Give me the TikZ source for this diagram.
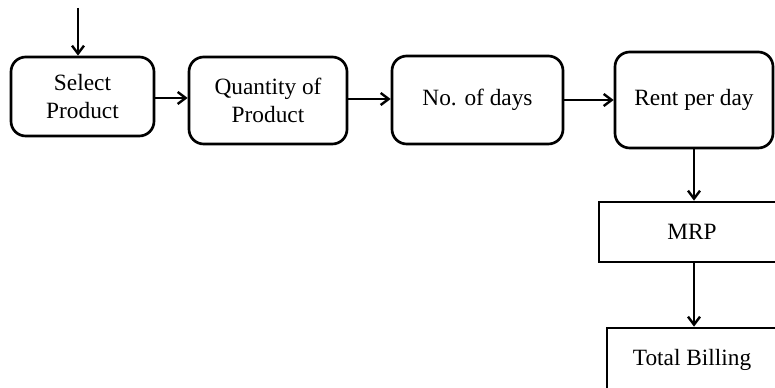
\documentclass[tikz,border=0pt]{standalone}
\usepackage{fontspec}
\setmainfont{Liberation Serif}
\usetikzlibrary{arrows.meta}
\begin{document}
\begin{tikzpicture}[x=0.75pt,y=-0.75pt,
  rbox/.style={draw, line width=2pt, rounded corners=11pt, align=center, inner sep=0pt,
    font=\fontsize{17.5}{21}\selectfont},
  sbox/.style={draw, line width=2pt, align=center, inner sep=0pt,
    font=\fontsize{17.5}{21}\selectfont},
  arr/.style={line width=2pt, -{Straight Barb[length=6pt,width=9pt,line width=1.8pt]}}]
\useasboundingbox (0,0) rectangle (775,388);
\clip (0,0) rectangle (775,388);
\node[rbox, minimum width=107.25pt, minimum height=59.25pt] (s) at (82.5,96.5) {Select\\Product};
\node[rbox, minimum width=118.5pt, minimum height=65.25pt] (q) at (268,100.5) {Quantity of\\Product};
\node[rbox, minimum width=128.25pt, minimum height=66pt] (n) at (477.5,100) {No. of days};
\node[rbox, minimum width=118.5pt, minimum height=72pt] (r) at (694,100) {Rent per day};
\node[sbox, minimum width=139.5pt, minimum height=45pt] (m) at (692,232) {MRP};
\node[sbox, minimum width=128.25pt, minimum height=54pt] (t) at (692.5,364) {};
\node[font=\fontsize{17.5}{21}\selectfont] (tt) at (692,360) {Total Billing};
\coordinate (start) at (78,8);
\draw[arr, line width=1.4pt] (start) -- (start |- s.north);
\draw[arr] (s.east |- 0,98) -- (q.west |- 0,98);
\draw[arr] (q.east |- 0,99) -- (n.west |- 0,99);
\draw[arr] (n.east) -- (r.west |- n.east);
\draw[arr] (r.south) -- (r.south |- m.north);
\draw[arr] (r.south |- m.south) -- (r.south |- t.north);
\end{tikzpicture}
\end{document}
